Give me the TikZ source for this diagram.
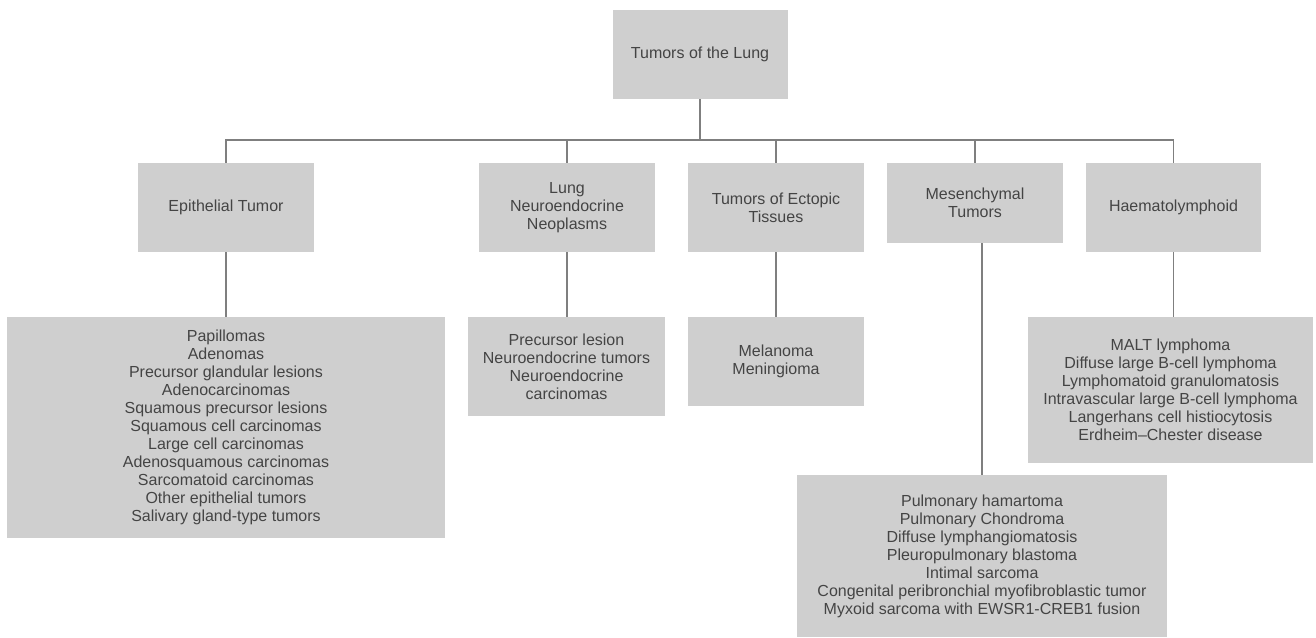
\documentclass[tikz,border=0pt]{standalone}
\usepackage{fontspec}
\setmainfont{Liberation Sans}
\usepackage{tikz}
\usetikzlibrary{positioning}
\definecolor{boxgray}{HTML}{CFCFCF}
\definecolor{linegray}{HTML}{7F7F7F}
\definecolor{textgray}{HTML}{444444}

\begin{document}
\begin{tikzpicture}[x=0.75pt, y=-0.75pt,
    box/.style={rectangle, fill=boxgray, draw=none, align=center, text=textgray,
        font=\fontsize{12}{13.5}\selectfont, inner sep=0pt},
    link/.style={draw=linegray, line width=0.8pt}]
        \useasboundingbox (0,0) rectangle (1316,638);

        \node[box, minimum width=131.25pt, minimum height=66.75pt] (root) at (700,54.5) {Tumors of the Lung};

        \node[box, minimum width=132pt, minimum height=66.75pt] (epi) at (226,207.5) {Epithelial Tumor};
        \node[box, minimum width=132pt, minimum height=66.75pt] (neuro) at (567,207.5) {Lung\\Neuroendocrine\\Neoplasms};
        \node[box, minimum width=132pt, minimum height=66.75pt] (ecto) at (776,207.5) {Tumors of Ectopic\\Tissues};
        \node[box, minimum width=132pt, minimum height=60pt] (mes) at (975,203) {Mesenchymal\\Tumors};
        \node[box, minimum width=131.25pt, minimum height=66.75pt] (haem) at (1173.5,207.5) {Haematolymphoid};

        \node[box, minimum width=328.5pt, minimum height=165.75pt] (epiL) at (226,427.5) {Papillomas\\Adenomas\\Precursor glandular lesions\\Adenocarcinomas\\Squamous precursor lesions\\Squamous cell carcinomas\\Large cell carcinomas\\Adenosquamous carcinomas\\Sarcomatoid carcinomas\\Other epithelial tumors\\Salivary gland-type tumors};
        \node[box, minimum width=147.75pt, minimum height=74.25pt] (neuroL) at (566.5,366.5) {Precursor lesion\\Neuroendocrine tumors\\Neuroendocrine\\carcinomas};
        \node[box, minimum width=132pt, minimum height=66.75pt] (ectoL) at (776,361.5) {Melanoma\\Meningioma};
        \node[box, minimum width=277.5pt, minimum height=121.5pt] (mesL) at (982,556) {Pulmonary hamartoma\\Pulmonary Chondroma\\Diffuse lymphangiomatosis\\Pleuropulmonary blastoma\\Intimal sarcoma\\Congenital peribronchial myofibroblastic tumor\\Myxoid sarcoma with EWSR1-CREB1 fusion};
        \node[box, minimum width=213.75pt, minimum height=109.5pt] (haemL) at (1170.5,390) {MALT lymphoma\\Diffuse large B-cell lymphoma\\Lymphomatoid granulomatosis\\Intravascular large B-cell lymphoma\\Langerhans cell histiocytosis\\Erdheim--Chester disease};

        \coordinate (bus) at (700,140);

        \draw[link] (root.south) -- (bus);
        \draw[link] (epi.north) |- (bus) -| (haem.north);
        \draw[link] (neuro.north) -- (neuro.north |- bus);
        \draw[link] (ecto.north) -- (ecto.north |- bus);
        \draw[link] (mes.north) -- (mes.north |- bus);

        \draw[link] (epi.south) -- (epiL.north);
        \draw[link] (neuro.south) -- (neuro.south |- neuroL.north);
        \draw[link] (ecto.south) -- (ectoL.north);
        \draw[link] (mesL.north) -- (mesL.north |- mes.south);
        \draw[link] (haem.south) -- (haem.south |- haemL.north);
    \end{tikzpicture}
\end{document}
